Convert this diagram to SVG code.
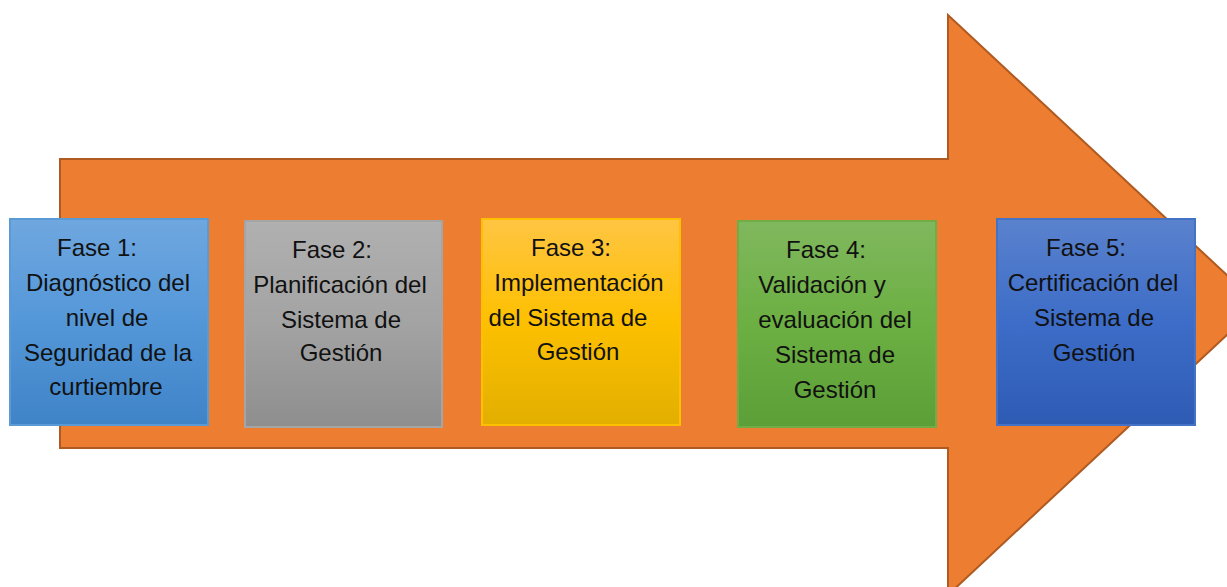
<svg xmlns="http://www.w3.org/2000/svg" width="1227" height="587" viewBox="0 0 1227 587">
<defs>
<linearGradient id="g1" x1="0" y1="0" x2="0" y2="1"><stop offset="0" stop-color="#6FA7DF"/><stop offset="0.5" stop-color="#5497D9"/><stop offset="1" stop-color="#3F84C7"/></linearGradient>
<linearGradient id="g2" x1="0" y1="0" x2="0" y2="1"><stop offset="0" stop-color="#B0B0B0"/><stop offset="0.5" stop-color="#A3A3A3"/><stop offset="1" stop-color="#8E8E8E"/></linearGradient>
<linearGradient id="g3" x1="0" y1="0" x2="0" y2="1"><stop offset="0" stop-color="#FFC543"/><stop offset="0.5" stop-color="#FDC000"/><stop offset="1" stop-color="#E2AF00"/></linearGradient>
<linearGradient id="g4" x1="0" y1="0" x2="0" y2="1"><stop offset="0" stop-color="#80B85E"/><stop offset="0.5" stop-color="#6CAF42"/><stop offset="1" stop-color="#5C9F38"/></linearGradient>
<linearGradient id="g5" x1="0" y1="0" x2="0" y2="1"><stop offset="0" stop-color="#5A82CD"/><stop offset="0.5" stop-color="#3D6DC8"/><stop offset="1" stop-color="#2E5BB4"/></linearGradient>
</defs>
<style>
.t{font-family:"Liberation Sans",Arial,sans-serif;font-size:24px;fill:#111;text-anchor:middle}
.b{stroke-width:2}
</style>
<g id="arrow">
<polygon points="60,159 948,159 948,15 1259,305 948,595 948,448 60,448" fill="#ED7D31" stroke="#AE5A21" stroke-width="2"/>
</g>
<g id="connectors"></g>
<g id="fase1">
<rect class="b" x="10" y="219" width="198" height="206" fill="url(#g1)" stroke="#5B9BD5"/>
<text class="t"><tspan x="97" y="256">Fase 1:</tspan><tspan x="108" y="291">Diagnóstico del</tspan><tspan x="107" y="326">nivel de</tspan><tspan x="108" y="361">Seguridad de la</tspan><tspan x="106" y="395">curtiembre</tspan></text>
</g>
<g id="fase2">
<rect class="b" x="245" y="221" width="197" height="206" fill="url(#g2)" stroke="#A5A5A5"/>
<text class="t"><tspan x="332" y="258">Fase 2:</tspan><tspan x="340" y="293">Planificación del</tspan><tspan x="341" y="328">Sistema de</tspan><tspan x="341" y="361">Gestión</tspan></text>
</g>
<g id="fase3">
<rect class="b" x="482" y="219" width="198" height="206" fill="url(#g3)" stroke="#FFC000"/>
<text class="t"><tspan x="571" y="256">Fase 3:</tspan><tspan x="579" y="291">Implementación</tspan><tspan x="568" y="326">del Sistema de</tspan><tspan x="578" y="360">Gestión</tspan></text>
</g>
<g id="fase4">
<rect class="b" x="738" y="221" width="198" height="206" fill="url(#g4)" stroke="#70AD47"/>
<text class="t"><tspan x="826" y="258">Fase 4:</tspan><tspan x="822" y="293">Validación y</tspan><tspan x="835" y="328">evaluación del</tspan><tspan x="835" y="363">Sistema de</tspan><tspan x="835" y="398">Gestión</tspan></text>
</g>
<g id="fase5">
<rect class="b" x="997" y="219" width="198" height="206" fill="url(#g5)" stroke="#4472C4"/>
<text class="t"><tspan x="1086" y="256">Fase 5:</tspan><tspan x="1093" y="291">Certificación del</tspan><tspan x="1094" y="326">Sistema de</tspan><tspan x="1094" y="361">Gestión</tspan></text>
</g>
</svg>
